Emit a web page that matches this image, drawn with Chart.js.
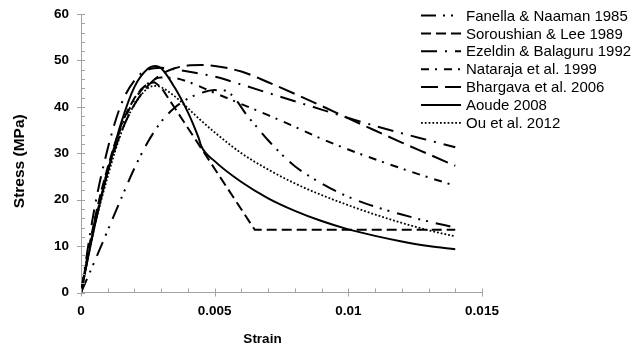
<!DOCTYPE html>
<html>
<head>
<meta charset="utf-8">
<script src="https://cdn.jsdelivr.net/npm/chart.js@4.4.0/dist/chart.umd.min.js"></script>
<style>
  html, body { margin: 0; padding: 0; background: #fff; }
</style>
</head>
<body>
<canvas id="stress-strain" width="634" height="350"></canvas>
<script>
// values (strain, stress in MPa)
const fanellaStrain = [0, 0.0005, 0.001, 0.0015, 0.002, 0.0025, 0.003, 0.0035, 0.004, 0.0045, 0.005, 0.0054, 0.0058, 0.0062, 0.0066, 0.007, 0.0075, 0.008, 0.009, 0.01, 0.011, 0.012, 0.013, 0.014];
const fanellaStress = [0, 6.6, 13.4, 20.2, 26.8, 32.4, 36.8, 39.8, 41.8, 43.0, 43.6, 43.5, 41.5, 38.2, 35.5, 32.8, 29.8, 27.2, 23.5, 20.6, 18.5, 16.8, 15.3, 14.0];

const soroushianStrain = [0, 0.00025, 0.0005, 0.00075, 0.001, 0.00125, 0.0015, 0.00175, 0.002, 0.00225, 0.0025, 0.00275, 0.003, 0.0065, 0.014];
const soroushianStress = [0, 8.2, 15.5, 21.7, 27, 31.8, 36, 39.3, 41.9, 43.8, 45, 45.3, 44.2, 13.5, 13.5];

const ezeldinStrain = [0, 0.0005, 0.001, 0.0015, 0.002, 0.0025, 0.003, 0.0035, 0.004, 0.005, 0.006, 0.007, 0.008, 0.009, 0.01, 0.011, 0.012, 0.013, 0.014];
const ezeldinStress = [0, 18, 31, 40.5, 45.7, 48.0, 48.4, 48.1, 47.6, 46.5, 44.8, 43.0, 41.2, 39.4, 37.6, 35.9, 34.3, 32.8, 31.3];

const natarajaStrain = [0, 0.0005, 0.001, 0.0015, 0.002, 0.0025, 0.003, 0.0035, 0.004, 0.005, 0.006, 0.007, 0.008, 0.009, 0.01, 0.011, 0.012, 0.013, 0.014];
const natarajaStress = [0, 15, 26.5, 35.5, 41.5, 45, 46.3, 46.2, 45.4, 43.0, 40.6, 38.2, 35.7, 33.1, 30.8, 28.7, 26.7, 24.8, 23.0];

const bhargavaStrain = [0, 0.0005, 0.001, 0.0015, 0.002, 0.0025, 0.003, 0.0035, 0.004, 0.0045, 0.005, 0.006, 0.007, 0.008, 0.009, 0.01, 0.011, 0.012, 0.013, 0.014];
const bhargavaStress = [0, 14.5, 26, 34.5, 40.5, 44.5, 47, 48.3, 48.9, 49.0, 48.8, 47.6, 45.3, 42.8, 40.2, 37.5, 34.9, 32.3, 29.8, 27.3];

const aoudeStrain = [0, 0.0005, 0.001, 0.0015, 0.002, 0.0025, 0.0028, 0.003, 0.0035, 0.004, 0.0042, 0.0044, 0.0045, 0.005, 0.006, 0.007, 0.008, 0.009, 0.01, 0.011, 0.012, 0.013, 0.014];
const aoudeStress = [0, 14, 26, 36.5, 44.3, 48.2, 48.8, 48.3, 44.2, 38.8, 36.2, 33.3, 31.5, 28.3, 23.8, 20.3, 17.6, 15.4, 13.6, 12.2, 11.0, 10.0, 9.3];

const ouStrain = [0, 0.0005, 0.001, 0.0015, 0.002, 0.0025, 0.0028, 0.003, 0.0035, 0.004, 0.0045, 0.005, 0.006, 0.007, 0.008, 0.009, 0.01, 0.011, 0.012, 0.013, 0.014];
const ouStress = [0, 14, 25, 34.3, 40.5, 44, 44.5, 44.2, 42.3, 39.7, 37, 34.5, 30, 26.5, 23.5, 21, 18.8, 16.8, 15, 13.4, 12.1];

const xTicks = [0, 0.005, 0.01, 0.015];
const yTicks = [0, 10, 20, 30, 40, 50, 60];

const FONT = '"Liberation Sans", Arial, Helvetica, sans-serif';
const AXIS_GREY = "#a3a3a3";

function zip(xs, ys) {
  return xs.map((x, i) => ({ x: x, y: ys[i] }));
}

function curve(label, xs, ys, dash, width, straight) {
  return {
    label: label,
    data: zip(xs, ys),
    borderColor: "#000",
    borderWidth: width || 2,
    borderDash: dash,
    borderCapStyle: "butt",
    pointRadius: 0,
    fill: false,
    tension: 0,
    cubicInterpolationMode: straight ? "default" : "monotone",
  };
}

// excel style ticks: major ones cross the axis, minor ones point inward
const axisTicks = {
  id: "axisTicks",
  afterDraw(chart) {
    const { ctx, chartArea, scales } = chart;
    const x = scales.x;
    const y = scales.y;
    ctx.save();
    ctx.strokeStyle = AXIS_GREY;
    ctx.lineWidth = 1;
    ctx.beginPath();
    for (let i = 0; i <= 15; i++) {
      const px = Math.round(x.getPixelForValue(i * 0.001)) + 0.5;
      const major = i % 5 === 0;
      ctx.moveTo(px, chartArea.bottom - 4);
      ctx.lineTo(px, chartArea.bottom + (major ? 4 : 0));
    }
    for (let i = 0; i <= 30; i++) {
      const py = Math.round(y.getPixelForValue(i * 2)) + 0.5;
      const major = i % 5 === 0;
      ctx.moveTo(chartArea.left - (major ? 4 : 0), py);
      ctx.lineTo(chartArea.left + 4, py);
    }
    ctx.stroke();

    // axis titles
    ctx.fillStyle = "#000";
    ctx.textAlign = "center";
    ctx.textBaseline = "middle";
    ctx.font = "bold 13.5px " + FONT;
    ctx.fillText("Strain", (chartArea.left + chartArea.right) / 2 - 19, 339);
    ctx.translate(20, (chartArea.top + chartArea.bottom) / 2 + 8);
    ctx.rotate(-Math.PI / 2);
    ctx.font = "bold 15.5px " + FONT;
    ctx.fillText("Stress (MPa)", 0, 0);
    ctx.restore();
  },
};

const sideLegend = {
  id: "sideLegend",
  afterDraw(chart) {
    const ctx = chart.ctx;
    const left = chart.chartArea.right - 61;
    ctx.save();
    ctx.font = "15px " + FONT;
    ctx.textBaseline = "middle";
    ctx.textAlign = "left";
    chart.data.datasets.forEach((ds, i) => {
      const y = 15.5 + i * 17.9;
      ctx.beginPath();
      ctx.setLineDash(ds.borderDash || []);
      ctx.lineWidth = ds.borderWidth;
      ctx.strokeStyle = ds.borderColor;
      ctx.moveTo(left, y);
      ctx.lineTo(left + 40, y);
      ctx.stroke();
      ctx.setLineDash([]);
      ctx.fillStyle = "#000";
      ctx.fillText(ds.label, left + 45, y + 1);
    });
    ctx.restore();
  },
};

const stressStrain = new Chart(document.getElementById("stress-strain"), {
  type: "line",
  data: {
    datasets: [
      curve("Fanella & Naaman 1985", fanellaStrain, fanellaStress, [15, 7, 2, 6, 2, 8]),
      curve("Soroushian & Lee 1989", soroushianStrain, soroushianStress, [10, 5], 2, true),
      curve("Ezeldin & Balaguru 1992", ezeldinStrain, ezeldinStress, [16, 8, 2, 8]),
      curve("Nataraja et al. 1999", natarajaStrain, natarajaStress, [8, 6, 2, 7]),
      curve("Bhargava et al. 2006", bhargavaStrain, bhargavaStress, [17, 7]),
      curve("Aoude 2008", aoudeStrain, aoudeStress, []),
      curve("Ou et al. 2012", ouStrain, ouStress, [1.8, 2], 1.8),
    ],
  },
  options: {
    responsive: false,
    animation: false,
    layout: { padding: { top: 14, right: 152, left: 0, bottom: 0 } },
    plugins: {
      legend: { display: false },
      tooltip: { enabled: false },
    },
    scales: {
      x: {
        type: "linear",
        min: xTicks[0],
        max: xTicks[xTicks.length - 1],
        afterBuildTicks(scale) {
          scale.ticks = xTicks.map((v) => ({ value: v }));
        },
        afterFit(scale) {
          scale.height = 57.5;
          scale.paddingLeft = 0;
          scale.paddingRight = 0;
        },
        ticks: {
          padding: 11,
          color: "#000",
          font: { family: FONT, size: 13.5, weight: "bold" },
          callback: (v) => String(+Number(v).toFixed(3)),
        },
        grid: { display: true, drawOnChartArea: false, drawTicks: false },
        border: { color: AXIS_GREY, width: 1 },
      },
      y: {
        min: yTicks[0],
        max: yTicks[yTicks.length - 1],
        afterBuildTicks(scale) {
          scale.ticks = yTicks.map((v) => ({ value: v }));
        },
        afterFit(scale) {
          scale.width = 81;
          scale.paddingTop = 0;
          scale.paddingBottom = 0;
        },
        ticks: {
          padding: 12,
          color: "#000",
          font: { family: FONT, size: 13.5, weight: "bold" },
        },
        grid: { display: true, drawOnChartArea: false, drawTicks: false },
        border: { color: AXIS_GREY, width: 1 },
      },
    },
  },
  plugins: [axisTicks, sideLegend],
});
</script>
</body>
</html>
